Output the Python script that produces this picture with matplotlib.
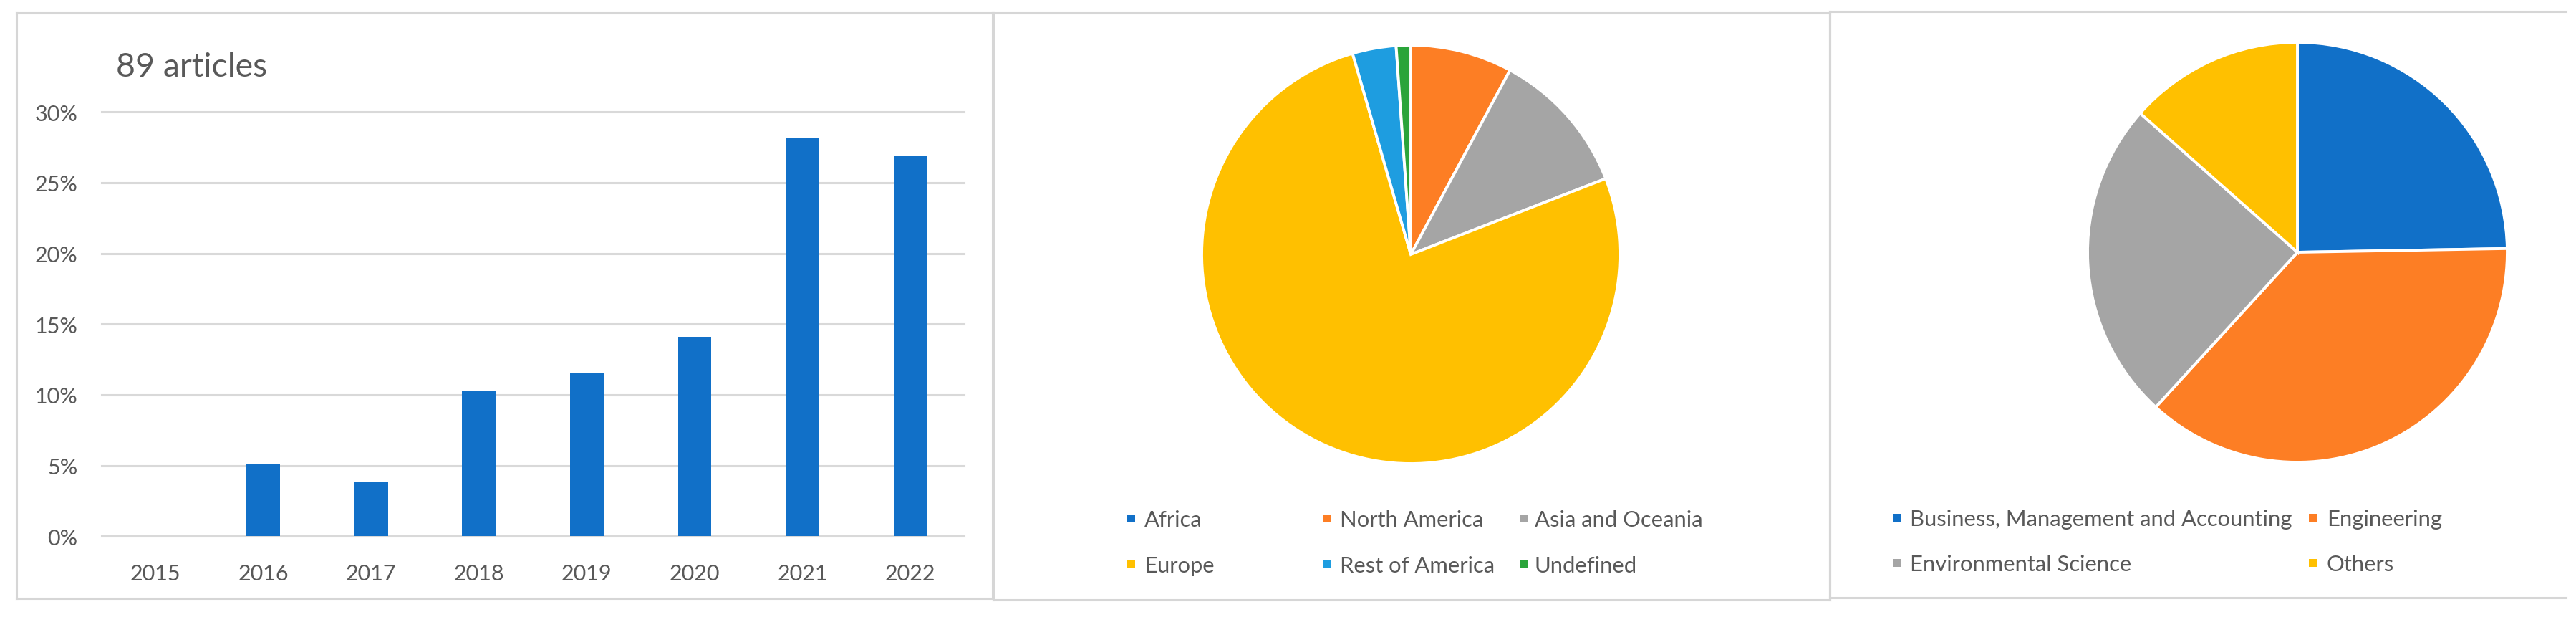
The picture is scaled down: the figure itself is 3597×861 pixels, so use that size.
import matplotlib
matplotlib.use("Agg")
import matplotlib.pyplot as plt
from matplotlib.patches import Rectangle
from matplotlib.lines import Line2D

# ---------------- data ----------------
years = ["2015", "2016", "2017", "2018", "2019", "2020", "2021", "2022"]
year_share = [0.0, 5.1, 3.8, 10.3, 11.5, 14.1, 28.2, 26.9]   # % of articles
bar_title = "89 articles"
y_ticks = [0, 5, 10, 15, 20, 25, 30]

regions = ["Africa", "North America", "Asia and Oceania", "Europe", "Rest of America", "Undefined"]
region_counts = [0, 7, 10, 68, 3, 1]
region_colors = ["#1170C8", "#FD7E24", "#A5A5A5", "#FFC000", "#1E9DE0", "#2AA43A"]

areas = ["Business, Management and Accounting", "Engineering", "Environmental Science", "Others"]
area_counts = [22, 33, 22, 12]
area_colors = ["#1170C8", "#FD7E24", "#A5A5A5", "#FFC000"]

# ---------------- layout ----------------
W, H = 3598, 862
DPI = 100
FONT = "Lato"
TXT = "#595959"
GRID = "#D9D9D9"

fig = plt.figure(figsize=(W / DPI, H / DPI), dpi=DPI)
fig.patch.set_facecolor("white")


def fx(px):
    return px / W


def fy(py):
    return 1 - py / H


def border(x0, y0, x1, y1, sides="lrtb"):
    kw = dict(color="#D6D6D6", lw=2.2, transform=fig.transFigure)
    if "t" in sides:
        fig.add_artist(Line2D([fx(x0), fx(x1)], [fy(y0), fy(y0)], **kw))
    if "b" in sides:
        fig.add_artist(Line2D([fx(x0), fx(x1)], [fy(y1), fy(y1)], **kw))
    if "l" in sides:
        fig.add_artist(Line2D([fx(x0), fx(x0)], [fy(y0), fy(y1)], **kw))
    if "r" in sides:
        fig.add_artist(Line2D([fx(x1), fx(x1)], [fy(y0), fy(y1)], **kw))


border(23, 19, 1386, 836)
border(1387, 19, 2555, 838)
border(2555, 17, 3583, 835, sides="ltb")

# ---------------- bar chart ----------------
ax_l, ax_r, ax_t, ax_b = 141.7, 1346.5, 157.3, 749.3
ax = fig.add_axes([fx(ax_l), fy(ax_b), fx(ax_r - ax_l), (ax_b - ax_t) / H])
ax.bar(range(len(years)), year_share, width=0.312, color="#1170C8", zorder=3)
ax.set_xlim(-0.5, len(years) - 0.5)
ax.set_ylim(0, 30)
ax.set_yticks(y_ticks)
ax.set_yticklabels([f"{v}%" for v in y_ticks])
ax.set_xticks(range(len(years)))
ax.set_xticklabels(years)
ax.yaxis.grid(True, color=GRID, lw=2.2, zorder=0)
for gl in ax.get_ygridlines():
    gl.set_clip_on(False)
ax.set_axisbelow(True)
for s in ax.spines.values():
    s.set_visible(False)
ax.tick_params(axis="both", length=0, labelsize=22, labelcolor=TXT)
ax.tick_params(axis="y", pad=24)
ax.tick_params(axis="x", pad=27)
for lab in ax.get_xticklabels() + ax.get_yticklabels():
    lab.set_fontfamily(FONT)

fig.text(fx(162), fy(107), bar_title, fontsize=33.5, color=TXT, family=FONT,
         ha="left", va="baseline")


# ---------------- pies ----------------
def pie_axes(cx, cy, r):
    a = fig.add_axes([fx(cx - r), fy(cy + r), fx(2 * r), 2 * r / H])
    return a


def legend(labels, colors, text_x, marker_x, rows_y, ncol):
    for i, (lab, col) in enumerate(zip(labels, colors)):
        c, rrow = i % ncol, i // ncol
        y = rows_y[rrow]
        fig.add_artist(Rectangle((fx(marker_x[c] - 5.5), fy(y + 5.5)), fx(11), 11 / H,
                                 transform=fig.transFigure, color=col, lw=0))
        fig.text(fx(text_x[c]), fy(y), lab, fontsize=22.3, color=TXT, family=FONT,
                 ha="left", va="center_baseline")


ax2 = pie_axes(1970, 356, 292)
ax2.pie(region_counts, colors=region_colors, startangle=90, counterclock=False,
        radius=1, wedgeprops=dict(edgecolor="white", linewidth=2.8))
ax2.set_xlim(-1, 1)
ax2.set_ylim(-1, 1)
ax2.set_aspect("auto")
ax2.axis("off")
legend(regions, region_colors, [1598, 1871, 2143], [1580, 1853, 2127], [724, 788], 3)

ax3 = pie_axes(3208, 353, 293)
ax3.pie(area_counts, colors=area_colors, startangle=90, counterclock=False,
        radius=1, wedgeprops=dict(edgecolor="white", linewidth=2.8))
ax3.set_xlim(-1, 1)
ax3.set_ylim(-1, 1)
ax3.set_aspect("auto")
ax3.axis("off")
legend(areas, area_colors, [2667, 3249], [2648, 3230], [723, 786], 2)

fig.savefig("out.png", dpi=DPI, facecolor="white")
